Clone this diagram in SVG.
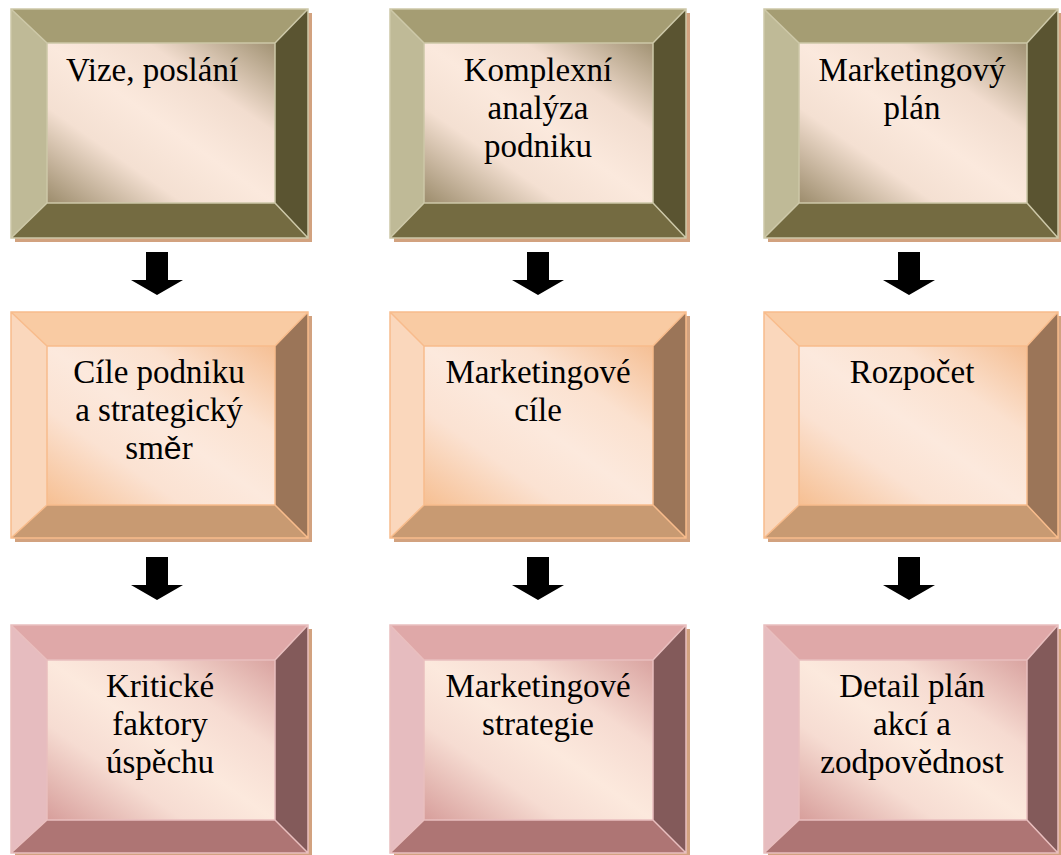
<svg xmlns="http://www.w3.org/2000/svg" width="1061" height="855" viewBox="0 0 1061 855">
<defs>
<linearGradient id="g1" x1="0" y1="1" x2="1" y2="0">
<stop offset="0" stop-color="#9c8c6c"/><stop offset="0.3" stop-color="#f4e0d2"/><stop offset="0.5" stop-color="#fbe9dd"/><stop offset="0.72" stop-color="#f2ddcf"/><stop offset="1" stop-color="#a19273"/>
</linearGradient>
<linearGradient id="g2" x1="0" y1="1" x2="1" y2="0">
<stop offset="0" stop-color="#f6bf92"/><stop offset="0.3" stop-color="#fbe2d2"/><stop offset="0.5" stop-color="#fce9dd"/><stop offset="0.72" stop-color="#fbe1cf"/><stop offset="1" stop-color="#f5bf94"/>
</linearGradient>
<linearGradient id="g3" x1="0" y1="1" x2="1" y2="0">
<stop offset="0" stop-color="#d79e9b"/><stop offset="0.3" stop-color="#f6dcd2"/><stop offset="0.5" stop-color="#fce9dd"/><stop offset="0.72" stop-color="#f6dbd1"/><stop offset="1" stop-color="#d9a3a0"/>
</linearGradient>
</defs>
<style>
.t{font-family:'Liberation Serif','Times New Roman',serif;font-size:33px;fill:#000;text-anchor:middle}
.r1 .top{fill:#a59d73}.r1 .lft{fill:#bfba97}.r1 .rgt{fill:#5a5431}.r1 .bot{fill:#746b41}.r1 .in{fill:url(#g1)}.r1 .ln{stroke:#cdc8a8}
.r2 .top{fill:#f9cba3}.r2 .lft{fill:#fad7bc}.r2 .rgt{fill:#9b7558}.r2 .bot{fill:#c89a72}.r2 .in{fill:url(#g2)}.r2 .ln{stroke:#f8bc8c}
.r3 .top{fill:#dfa8a8}.r3 .lft{fill:#e6bcbf}.r3 .rgt{fill:#835a5a}.r3 .bot{fill:#ae7574}.r3 .in{fill:url(#g3)}.r3 .ln{stroke:#e9bfbf}
.sh{fill:#d2a27f}
.ln{fill:none;stroke-width:1.5}
.arr{fill:#000}
</style>

<g id="n1" class="r1">
<rect class="sh" x="15" y="13" width="297" height="229"/>
<polygon class="top" points="11,9 308,9 275,43 47,43"/>
<polygon class="rgt" points="308,9 308,238 275,203 275,43"/>
<polygon class="bot" points="11,238 308,238 275,203 47,203"/>
<polygon class="lft" points="11,9 47,43 47,203 11,238"/>
<rect class="in" x="47" y="43" width="228" height="160"/>
<path class="ln" d="M11,9H308V238H11Z M47,43H275V203H47Z M11,9L47,43 M308,9L275,43 M308,238L275,203 M11,238L47,203"/>
<text class="t" x="152" y="81">Vize, poslání</text>
</g>

<g id="n2" class="r1">
<rect class="sh" x="394" y="13" width="296" height="229"/>
<polygon class="top" points="390,9 686,9 653,43 424,43"/>
<polygon class="rgt" points="686,9 686,238 653,203 653,43"/>
<polygon class="bot" points="390,238 686,238 653,203 424,203"/>
<polygon class="lft" points="390,9 424,43 424,203 390,238"/>
<rect class="in" x="424" y="43" width="229" height="160"/>
<path class="ln" d="M390,9H686V238H390Z M424,43H653V203H424Z M390,9L424,43 M686,9L653,43 M686,238L653,203 M390,238L424,203"/>
<text class="t" x="538" y="81">Komplexní</text>
<text class="t" x="538" y="119">analýza</text>
<text class="t" x="538" y="157">podniku</text>
</g>

<g id="n3" class="r1">
<rect class="sh" x="768" y="13" width="294" height="229"/>
<polygon class="top" points="764,9 1058,9 1027,43 799,43"/>
<polygon class="rgt" points="1058,9 1058,238 1027,203 1027,43"/>
<polygon class="bot" points="764,238 1058,238 1027,203 799,203"/>
<polygon class="lft" points="764,9 799,43 799,203 764,238"/>
<rect class="in" x="799" y="43" width="228" height="160"/>
<path class="ln" d="M764,9H1058V238H764Z M799,43H1027V203H799Z M764,9L799,43 M1058,9L1027,43 M1058,238L1027,203 M764,238L799,203"/>
<text class="t" x="912" y="81">Marketingový</text>
<text class="t" x="912" y="119">plán</text>
</g>

<g id="n4" class="r2">
<rect class="sh" x="15" y="316" width="297" height="226"/>
<polygon class="top" points="11,312 308,312 275,346 47,346"/>
<polygon class="rgt" points="308,312 308,538 275,505 275,346"/>
<polygon class="bot" points="11,538 308,538 275,505 47,505"/>
<polygon class="lft" points="11,312 47,346 47,505 11,538"/>
<rect class="in" x="47" y="346" width="228" height="159"/>
<path class="ln" d="M11,312H308V538H11Z M47,346H275V505H47Z M11,312L47,346 M308,312L275,346 M308,538L275,505 M11,538L47,505"/>
<text class="t" x="159" y="383">Cíle podniku</text>
<text class="t" x="159" y="421">a strategický</text>
<text class="t" x="159" y="459">sm<tspan font-family="Liberation Sans, Arial, sans-serif" font-size="32">ě</tspan>r</text>
</g>

<g id="n5" class="r2">
<rect class="sh" x="394" y="316" width="296" height="226"/>
<polygon class="top" points="390,312 686,312 653,346 424,346"/>
<polygon class="rgt" points="686,312 686,538 653,505 653,346"/>
<polygon class="bot" points="390,538 686,538 653,505 424,505"/>
<polygon class="lft" points="390,312 424,346 424,505 390,538"/>
<rect class="in" x="424" y="346" width="229" height="159"/>
<path class="ln" d="M390,312H686V538H390Z M424,346H653V505H424Z M390,312L424,346 M686,312L653,346 M686,538L653,505 M390,538L424,505"/>
<text class="t" x="538" y="383">Marketingové</text>
<text class="t" x="538" y="421">cíle</text>
</g>

<g id="n6" class="r2">
<rect class="sh" x="768" y="316" width="294" height="226"/>
<polygon class="top" points="764,312 1058,312 1027,346 799,346"/>
<polygon class="rgt" points="1058,312 1058,538 1027,505 1027,346"/>
<polygon class="bot" points="764,538 1058,538 1027,505 799,505"/>
<polygon class="lft" points="764,312 799,346 799,505 764,538"/>
<rect class="in" x="799" y="346" width="228" height="159"/>
<path class="ln" d="M764,312H1058V538H764Z M799,346H1027V505H799Z M764,312L799,346 M1058,312L1027,346 M1058,538L1027,505 M764,538L799,505"/>
<text class="t" x="912" y="383">Rozpočet</text>
</g>

<g id="n7" class="r3">
<rect class="sh" x="15" y="629" width="297" height="228"/>
<polygon class="top" points="11,625 308,625 275,660 47,660"/>
<polygon class="rgt" points="308,625 308,853 275,820 275,660"/>
<polygon class="bot" points="11,853 308,853 275,820 47,820"/>
<polygon class="lft" points="11,625 47,660 47,820 11,853"/>
<rect class="in" x="47" y="660" width="228" height="160"/>
<path class="ln" d="M11,625H308V853H11Z M47,660H275V820H47Z M11,625L47,660 M308,625L275,660 M308,853L275,820 M11,853L47,820"/>
<text class="t" x="160" y="697">Kritické</text>
<text class="t" x="160" y="735">faktory</text>
<text class="t" x="160" y="773">úspěchu</text>
</g>

<g id="n8" class="r3">
<rect class="sh" x="394" y="629" width="296" height="228"/>
<polygon class="top" points="390,625 686,625 653,660 424,660"/>
<polygon class="rgt" points="686,625 686,853 653,820 653,660"/>
<polygon class="bot" points="390,853 686,853 653,820 424,820"/>
<polygon class="lft" points="390,625 424,660 424,820 390,853"/>
<rect class="in" x="424" y="660" width="229" height="160"/>
<path class="ln" d="M390,625H686V853H390Z M424,660H653V820H424Z M390,625L424,660 M686,625L653,660 M686,853L653,820 M390,853L424,820"/>
<text class="t" x="538" y="697">Marketingové</text>
<text class="t" x="538" y="735">strategie</text>
</g>

<g id="n9" class="r3">
<rect class="sh" x="768" y="629" width="294" height="228"/>
<polygon class="top" points="764,625 1058,625 1027,660 799,660"/>
<polygon class="rgt" points="1058,625 1058,853 1027,820 1027,660"/>
<polygon class="bot" points="764,853 1058,853 1027,820 799,820"/>
<polygon class="lft" points="764,625 799,660 799,820 764,853"/>
<rect class="in" x="799" y="660" width="228" height="160"/>
<path class="ln" d="M764,625H1058V853H764Z M799,660H1027V820H799Z M764,625L799,660 M1058,625L1027,660 M1058,853L1027,820 M764,853L799,820"/>
<text class="t" x="912" y="697">Detail plán</text>
<text class="t" x="912" y="735">akcí a</text>
<text class="t" x="912" y="773">zodpovědnost</text>
</g>

<g id="connectors">
<path class="arr" d="M146,252h22v28h15l-26,15l-26,-15h15z"/>
<path class="arr" d="M527,252h22v28h15l-26,15l-26,-15h15z"/>
<path class="arr" d="M898,252h22v28h15l-26,15l-26,-15h15z"/>
<path class="arr" d="M146,557h22v28h15l-26,15l-26,-15h15z"/>
<path class="arr" d="M527,557h22v28h15l-26,15l-26,-15h15z"/>
<path class="arr" d="M898,557h22v28h15l-26,15l-26,-15h15z"/>
</g>
</svg>
